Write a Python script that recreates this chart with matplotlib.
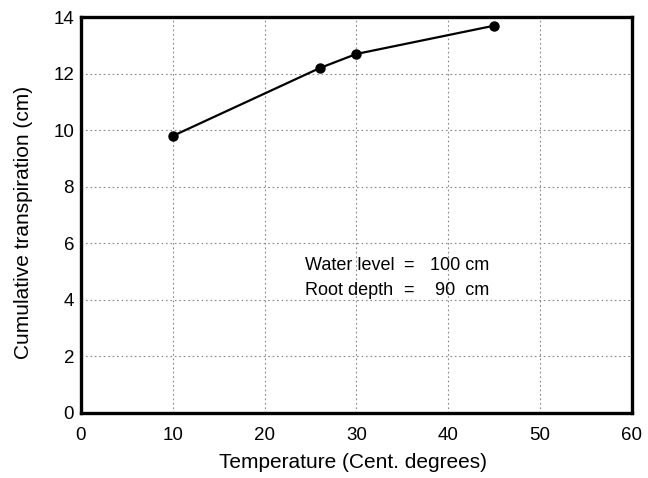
import matplotlib
matplotlib.use("Agg")
import matplotlib.pyplot as plt

# Data
temperature = [10, 26, 30, 45]
transpiration = [9.8, 12.2, 12.7, 13.7]
x_ticks = [0, 10, 20, 30, 40, 50, 60]
y_ticks = [0, 2, 4, 6, 8, 10, 12, 14]
note_names = ['Water level', 'Root depth']
note_values = ['100 cm', '90  cm']

plt.rcParams['font.family'] = ['Liberation Sans', 'DejaVu Sans']

fig = plt.figure(figsize=(6.48, 4.78), dpi=100)
ax = fig.add_axes([0.125, 0.136, 0.85, 0.828])

ax.plot(temperature, transpiration, color='black', lw=1.6,
        marker='o', markersize=6.5, zorder=3)

ax.set_xlim(0, 60)
ax.set_ylim(0, 14)
ax.set_xticks(x_ticks)
ax.set_yticks(y_ticks)
ax.tick_params(length=0, labelsize=13.5)
ax.tick_params(axis='x', pad=10)
ax.tick_params(axis='y', pad=5)

ax.grid(True, color='#888888', linestyle=(0, (1.5, 2.5)), linewidth=0.8)
for s in ax.spines.values():
    s.set_linewidth(2.4)

ax.set_xlabel('Temperature (Cent. degrees)', fontsize=15)
ax.set_ylabel('Cumulative transpiration (cm)', fontsize=15)
ax.xaxis.set_label_coords(0.493, -0.1)
ax.yaxis.set_label_coords(-0.088, 0.482)

# annotation block
for i, (name, val) in enumerate(zip(note_names, note_values)):
    yy = 5.22 - i * 0.88
    ax.text(24.4, yy, name, fontsize=13, va='center')
    ax.text(35.7, yy, '=', fontsize=13, va='center', ha='center')
    ax.text(44.5, yy, val, fontsize=13, va='center', ha='right')

fig.savefig('out.png', dpi=100)
